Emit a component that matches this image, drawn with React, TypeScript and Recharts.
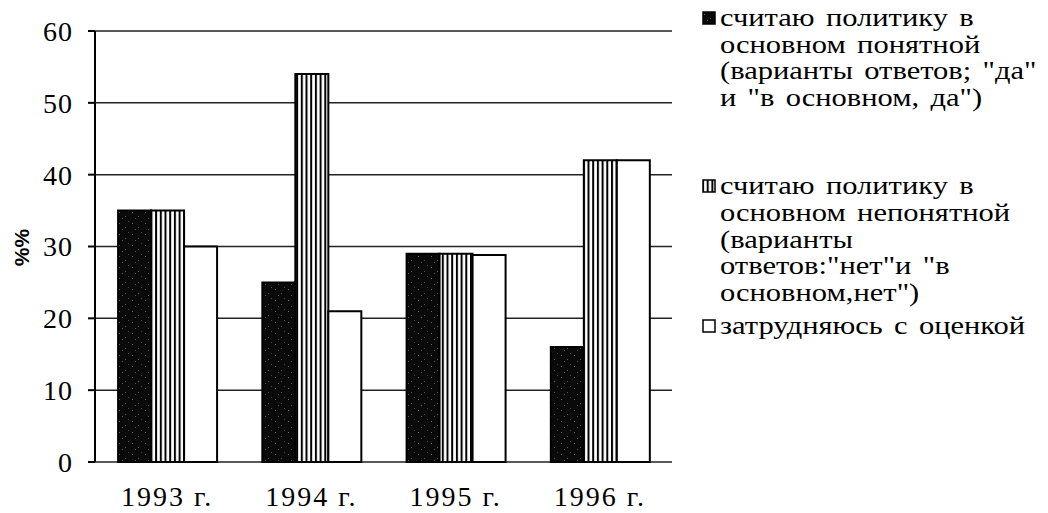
import { BarChart, Bar, XAxis, YAxis, CartesianGrid } from 'recharts'

const years = ['1993 г.', '1994 г.', '1995 г.', '1996 г.']
const clearValues = [35, 25, 29, 16]
const unclearValues = [35, 54, 29, 42]
const hardValues = [30, 21, 28.8, 42]
const yTicks = [0, 10, 20, 30, 40, 50, 60]
const edgeTicks = [0, 1, 2, 3, 4]

const clearLegend = ['считаю политику в', 'основном понятной', '(варианты ответов; "да"', 'и "в основном, да")']
const unclearLegend = ['считаю политику в', 'основном непонятной', '(варианты', 'ответов:"нет"и "в', 'основном,нет")']
const hardLegend = ['затрудняюсь с оценкой']

const serif = "'Liberation Serif'"

const data = years.map((year, i) => ({
  year,
  clear: clearValues[i],
  unclear: unclearValues[i],
  hard: hardValues[i],
  edge: i,
}))

const series = [
  { key: 'clear', fill: 'url(#dark)', lines: clearLegend, gapAfter: 62 },
  { key: 'unclear', fill: 'url(#stripes)', lines: unclearLegend, gapAfter: 7 },
  { key: 'hard', fill: '#fff', lines: hardLegend, gapAfter: 0 },
]

function EdgeTick({ x, y }: any) {
  return <line x1={x} x2={x} y1={y - 7} y2={y + 8} stroke="#000" strokeWidth={2} />
}

function PercentLabel({ viewBox }: any) {
  const cx = viewBox.x + 21
  const cy = viewBox.y + viewBox.height / 2 + 1
  return (
    <text
      x={cx}
      y={cy}
      transform={`rotate(-90 ${cx} ${cy})`}
      textAnchor="middle"
      dominantBaseline="central"
      fontFamily="Liberation Sans"
      fontWeight="bold"
      fontSize={21}
      fill="#000"
    >
      %%
    </text>
  )
}

function Legend() {
  return (
    <div style={{ position: 'absolute', left: 702, top: 5, fontFamily: serif, fontSize: 25, lineHeight: '26.6px', color: '#000' }}>
      {series.map((s) => (
        <div key={s.key} style={{ position: 'relative', paddingLeft: 18, marginBottom: s.gapAfter }}>
          <svg width={14} height={14} style={{ position: 'absolute', left: 0, top: 6 }}>
            <rect x={1} y={1} width={12} height={12} fill={s.fill} stroke="#000" strokeWidth={1.5} />
          </svg>
          <div style={{ transform: 'scaleX(1.22)', transformOrigin: 'left top', wordSpacing: 3 }}>
            {s.lines.map((line) => (
              <div key={line} style={{ whiteSpace: 'nowrap' }}>{line}</div>
            ))}
          </div>
        </div>
      ))}
    </div>
  )
}

export default function App() {
  return (
    <div style={{ position: 'absolute', left: 0, top: 0, width: 1048, height: 513, background: '#fff', overflow: 'hidden' }}>
      <BarChart
        width={1048}
        height={513}
        data={data}
        margin={{ top: 31, right: 376, bottom: 1, left: 0 }}
        barCategoryGap="16%"
        barGap={0}
      >
        <defs>
          <pattern id="dark" patternUnits="userSpaceOnUse" width={13} height={11}>
            <rect width={13} height={11} fill="#0a0a0a" />
            <rect x={2} y={3} width={1} height={1} fill="#666" />
            <rect x={8} y={7} width={1} height={1} fill="#555" />
            <rect x={11} y={1} width={1} height={1} fill="#444" />
            <rect x={5} y={9} width={1} height={1} fill="#555" />
          </pattern>
          <pattern id="stripes" patternUnits="userSpaceOnUse" width={4.7} height={10}>
            <rect width={4.7} height={10} fill="#fff" />
            <rect width={2} height={10} fill="#000" />
          </pattern>
        </defs>
        <CartesianGrid vertical={false} stroke="#222" strokeWidth={1.5} />
        <XAxis
          xAxisId="edges"
          dataKey="edge"
          type="number"
          domain={[0, 4]}
          ticks={edgeTicks}
          height={0}
          tickSize={0}
          tickMargin={0}
          tick={<EdgeTick />}
          tickLine={false}
          axisLine={{ stroke: '#000', strokeWidth: 2 }}
        />
        <XAxis
          dataKey="year"
          height={50}
          axisLine={false}
          tickLine={false}
          tickSize={0}
          tickMargin={24}
          tick={{ fontFamily: serif, fontSize: 28, fill: '#000', letterSpacing: 2 }}
        />
        <YAxis
          width={95}
          domain={[0, 60]}
          ticks={yTicks}
          interval={0}
          tickSize={7}
          tickMargin={15}
          axisLine={{ stroke: '#000', strokeWidth: 2 }}
          tickLine={{ stroke: '#000', strokeWidth: 2 }}
          tick={{ fontFamily: serif, fontSize: 28, fill: '#000', letterSpacing: 1 }}
          label={<PercentLabel />}
        />
        {series.map((s) => (
          <Bar key={s.key} dataKey={s.key} fill={s.fill} stroke="#000" strokeWidth={2} isAnimationActive={false} />
        ))}
      </BarChart>
      <Legend />
    </div>
  )
}
